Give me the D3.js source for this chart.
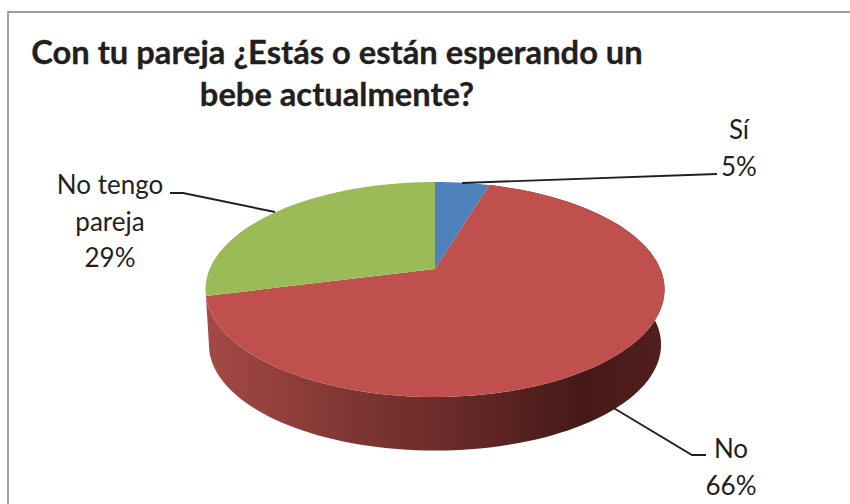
<!DOCTYPE html>
<html><head><meta charset="utf-8">
<script src="https://cdn.jsdelivr.net/npm/d3@7/dist/d3.min.js"></script>
<style>html,body{margin:0;padding:0;background:#fff}svg{display:block}text{font-family:Lato,"Open Sans",sans-serif;fill:#231f20}</style>
</head><body><svg id="c" width="850" height="504"></svg>
<script>
const categories = ["Sí", "No", "No tengo pareja"];
const shares = [4.6, 66.4, 29];
const colors = ["#4f81bd", "#c0504d", "#9bbb59"];
const titleLines = ["Con tu pareja ¿Estás o están esperando un", "bebe actualmente?"];
const labelLines = [["Sí"], ["No"], ["No tengo", "pareja"]];

const svg = d3.select("#c");
const apex = {x: 435, y: 269};
const front = 128, back = 87, halfWidth = 225.3, depth = 55.5, wallScale = 0.985;
const k = (front - back) / (front + back);
const b = front * (1 - k);

// Perspective projection of a point on the unit circle (angle clockwise from top).
function project(t, scale = 1, dy = 0) {
  const u = Math.sin(t), v = -Math.cos(t), w = 1 - k * v;
  return [apex.x + scale * halfWidth * u / w, apex.y + dy + scale * b * v / w];
}
const arcPts = (a0, a1, scale, dy) => d3.range(0, 121).map(i => project(a0 + (a1 - a0) * i / 120, scale, dy));
const line = d3.line();

const arcs = d3.pie().sort(null)(shares);
const defs = svg.append("defs");
const grad = defs.append("linearGradient").attr("id", "wall").attr("gradientUnits", "userSpaceOnUse")
  .attr("x1", 205).attr("x2", 664).attr("y1", 0).attr("y2", 0);
[[0, "#a54946"], [0.25, "#873a37"], [0.55, "#662a28"], [0.82, "#451917"], [1, "#521f1d"]]
  .forEach(s => grad.append("stop").attr("offset", s[0]).attr("stop-color", s[1]));

// Chart frame: only the top and left edges fall inside the picture
svg.append("path").attr("d", line([[8, 504], [8, 12], [850, 12]]))
  .attr("fill", "none").attr("stroke", "#9c9c9f").attr("stroke-width", 1.8);

// Side wall of the red slice
const red = arcs[1];
const wallPts = arcPts(red.startAngle, red.endAngle, 1, 0)
  .concat(arcPts(red.endAngle, red.startAngle, wallScale, depth));
svg.append("path").attr("d", line(wallPts) + "Z").attr("fill", "url(#wall)");

// Top faces
svg.selectAll("path.slice").data(arcs).join("path").attr("class", "slice")
  .attr("d", d => line([[apex.x, apex.y]].concat(arcPts(d.startAngle, d.endAngle, 1, 0))) + "Z")
  .attr("fill", (d, i) => colors[i]);

// Leader lines
const leaderLines = [
  [[462, 183], [717, 174]],
  [[612, 407], [692, 455], [706, 455]],
  [[275, 212], [183, 193], [170, 193]]
];
svg.selectAll("path.leader").data(leaderLines).join("path").attr("class", "leader")
  .attr("d", d => line(d)).attr("fill", "none").attr("stroke", "#231f20").attr("stroke-width", 1.9);

// Title
svg.selectAll("text.title").data(titleLines).join("text").attr("class", "title")
  .attr("x", 337).attr("y", (d, i) => 64 + i * 42)
  .attr("text-anchor", "middle").attr("font-size", 32.7).attr("font-weight", 700)
  .attr("stroke", "#231f20").attr("stroke-width", 0.35).text(d => d);

// Data labels
const labelPos = [{x: 739, y: 139}, {x: 731, y: 458}, {x: 110, y: 194}];
const lh = 36.5;
labelPos.forEach((p, i) => {
  const lines = labelLines[i].concat([Math.round(shares[i]) + "%"]);
  const t = svg.append("text").attr("text-anchor", "middle").attr("font-size", 26);
  lines.forEach((s, j) => t.append("tspan").attr("x", p.x).attr("y", p.y + j * lh).text(s));
});
</script></body></html>
